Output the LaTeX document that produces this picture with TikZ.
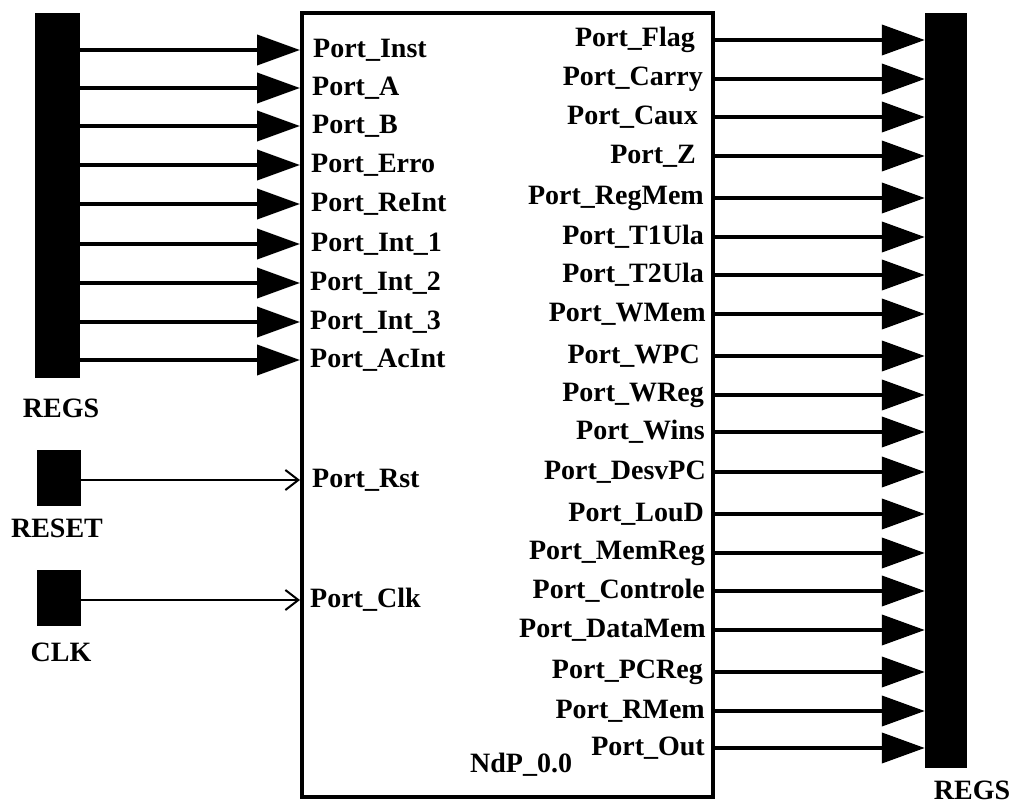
\documentclass[tikz,border=0pt]{standalone}
\usepackage{fontspec}
\setmainfont{Liberation Serif}
\usetikzlibrary{arrows.meta}

\begin{document}
\begin{tikzpicture}[x=1pt, y=-1pt,
  bus/.style={fill=black, inner sep=0pt},
  pfont/.style={inner sep=0pt, font=\fontsize{28}{30}\selectfont\bfseries},
  inport/.style={pfont, anchor=west},
  outport/.style={pfont, anchor=east},
  wide/.style={line width=4pt, -{Triangle[length=43pt, width=30pt]}},
  sigarrow/.style={line width=2pt, -{Straight Barb[length=13pt, width=20pt, line width=2pt]}}]

  \useasboundingbox (0,0) rectangle (1015,805);

  % ==========================================
  % SECTION 1: Main block and buses
  % ==========================================
  \node[draw, line width=4pt, minimum width=411pt, minimum height=784pt, inner sep=0pt] (box) at (507.5,405) {};
  \node[inport] (ndp) at (470,765) {NdP\_0.0};

  \node[bus, minimum width=45pt, minimum height=365pt] (regsL) at (57.5,195.5) {};
  \node[pfont] (regsLlbl) at (61,408) {REGS};
  \node[bus, minimum width=44pt, minimum height=56pt] (reset) at (59,478) {};
  \node[pfont] (resetlbl) at (57,528) {RESET};
  \node[bus, minimum width=44pt, minimum height=56pt] (clk) at (59,598) {};
  \node[pfont] (clklbl) at (61,652) {CLK};

  \node[bus, minimum width=42pt, minimum height=755pt] (regsR) at (946,390.5) {};
  \node[pfont] (regsRlbl) at (972,790) {REGS};

  % ==========================================
  % SECTION 2: Input ports
  % ==========================================
  \node[inport] (pInst) at (313,50) {Port\_Inst};
  \node[inport] (pA) at (312,88) {Port\_A};
  \node[inport] (pB) at (312,126) {Port\_B};
  \node[inport] (pErro) at (311,165) {Port\_Erro};
  \node[inport] (pReInt) at (311,204) {Port\_ReInt};
  \node[inport] (pInt1) at (311,244) {Port\_Int\_1};
  \node[inport] (pInt2) at (310,283) {Port\_Int\_2};
  \node[inport] (pInt3) at (310,322) {Port\_Int\_3};
  \node[inport] (pAcInt) at (310,360) {Port\_AcInt};
  \node[inport] (pRst) at (312,480) {Port\_Rst};
  \node[inport] (pClk) at (310,600) {Port\_Clk};

  \draw[wide] (regsL.east |- pInst.west) -- (box.west |- pInst.west);
  \draw[wide] (regsL.east |- pA.west) -- (box.west |- pA.west);
  \draw[wide] (regsL.east |- pB.west) -- (box.west |- pB.west);
  \draw[wide] (regsL.east |- pErro.west) -- (box.west |- pErro.west);
  \draw[wide] (regsL.east |- pReInt.west) -- (box.west |- pReInt.west);
  \draw[wide] (regsL.east |- pInt1.west) -- (box.west |- pInt1.west);
  \draw[wide] (regsL.east |- pInt2.west) -- (box.west |- pInt2.west);
  \draw[wide] (regsL.east |- pInt3.west) -- (box.west |- pInt3.west);
  \draw[wide] (regsL.east |- pAcInt.west) -- (box.west |- pAcInt.west);
  \draw[sigarrow] (reset.east |- pRst.west) -- (box.west |- pRst.west);
  \draw[sigarrow] (clk.east |- pClk.west) -- (box.west |- pClk.west);

  % ==========================================
  % SECTION 3: Output ports
  % ==========================================
  \node[outport] (pFlag) at (695,40) {Port\_Flag};
  \node[outport] (pCarry) at (703,79) {Port\_Carry};
  \node[outport] (pCaux) at (698,117) {Port\_Caux};
  \node[outport] (pZ) at (696,156) {Port\_Z};
  \node[outport] (pRegMem) at (704,198) {Port\_RegMem};
  \node[outport] (pT1Ula) at (704,237) {Port\_T1Ula};
  \node[outport] (pT2Ula) at (704,275) {Port\_T2Ula};
  \node[outport] (pWMem) at (706,314) {Port\_WMem};
  \node[outport] (pWPC) at (700,356) {Port\_WPC};
  \node[outport] (pWReg) at (704,395) {Port\_WReg};
  \node[outport] (pWins) at (705,432) {Port\_Wins};
  \node[outport] (pDesvPC) at (706,472) {Port\_DesvPC};
  \node[outport] (pLouD) at (704,514) {Port\_LouD};
  \node[outport] (pMemReg) at (705,553) {Port\_MemReg};
  \node[outport] (pControle) at (705,591) {Port\_Controle};
  \node[outport] (pDataMem) at (706,630) {Port\_DataMem};
  \node[outport] (pPCReg) at (703,672) {Port\_PCReg};
  \node[outport] (pRMem) at (705,711) {Port\_RMem};
  \node[outport] (pOut) at (705,748) {Port\_Out};

  \draw[wide] (box.east |- pFlag.east) -- (regsR.west |- pFlag.east);
  \draw[wide] (box.east |- pCarry.east) -- (regsR.west |- pCarry.east);
  \draw[wide] (box.east |- pCaux.east) -- (regsR.west |- pCaux.east);
  \draw[wide] (box.east |- pZ.east) -- (regsR.west |- pZ.east);
  \draw[wide] (box.east |- pRegMem.east) -- (regsR.west |- pRegMem.east);
  \draw[wide] (box.east |- pT1Ula.east) -- (regsR.west |- pT1Ula.east);
  \draw[wide] (box.east |- pT2Ula.east) -- (regsR.west |- pT2Ula.east);
  \draw[wide] (box.east |- pWMem.east) -- (regsR.west |- pWMem.east);
  \draw[wide] (box.east |- pWPC.east) -- (regsR.west |- pWPC.east);
  \draw[wide] (box.east |- pWReg.east) -- (regsR.west |- pWReg.east);
  \draw[wide] (box.east |- pWins.east) -- (regsR.west |- pWins.east);
  \draw[wide] (box.east |- pDesvPC.east) -- (regsR.west |- pDesvPC.east);
  \draw[wide] (box.east |- pLouD.east) -- (regsR.west |- pLouD.east);
  \draw[wide] (box.east |- pMemReg.east) -- (regsR.west |- pMemReg.east);
  \draw[wide] (box.east |- pControle.east) -- (regsR.west |- pControle.east);
  \draw[wide] (box.east |- pDataMem.east) -- (regsR.west |- pDataMem.east);
  \draw[wide] (box.east |- pPCReg.east) -- (regsR.west |- pPCReg.east);
  \draw[wide] (box.east |- pRMem.east) -- (regsR.west |- pRMem.east);
  \draw[wide] (box.east |- pOut.east) -- (regsR.west |- pOut.east);

\end{tikzpicture}
\end{document}
